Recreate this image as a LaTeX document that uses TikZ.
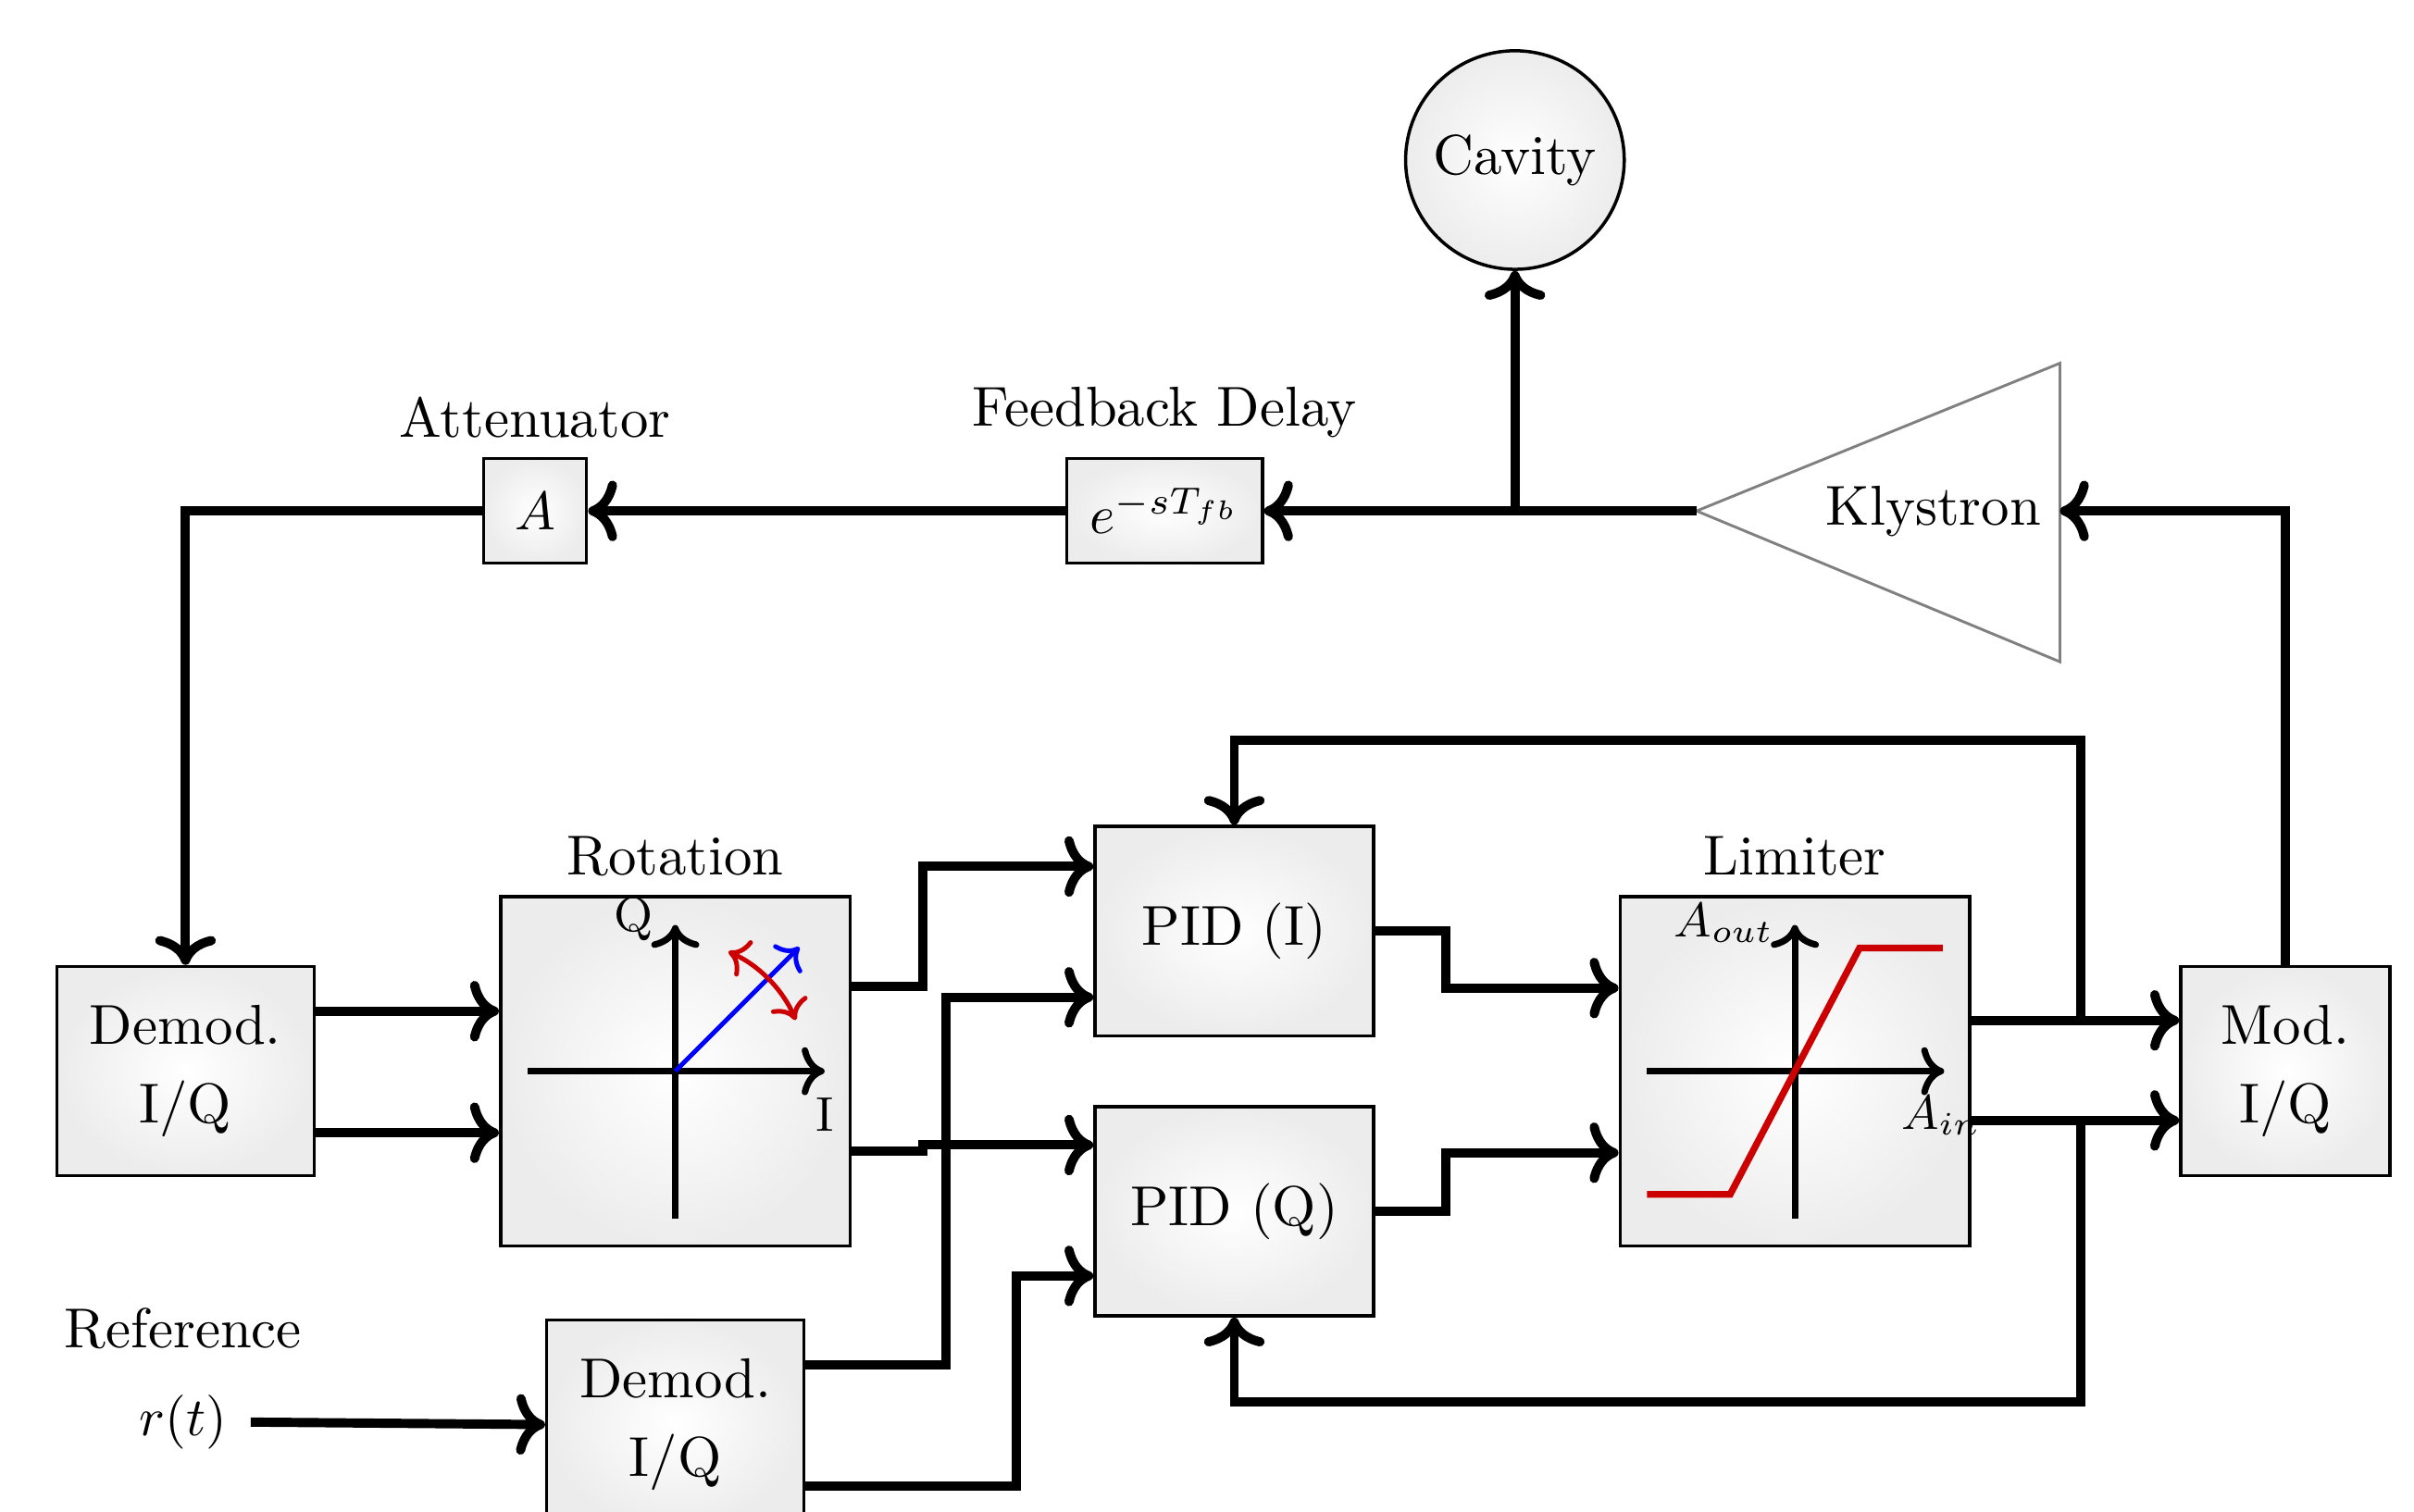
\documentclass[tikz,border=0pt]{standalone}
\usepackage{amsmath}
\usepackage{xcolor}
\usepackage{tikz}
\usetikzlibrary{arrows.meta, positioning, calc}
\definecolor{limred}{RGB}{204,0,0}
\definecolor{vecblue}{RGB}{0,0,255}

\begin{document}
\begin{tikzpicture}[
    font=\fontsize{10.4pt}{12.5pt}\selectfont,
    wire/.style={line width=1.7pt, ->},
    axis/.style={line width=1.2pt, ->},
    block/.style={draw, line width=0.6pt, inner color=white, outer color=gray!15, align=center},
    plotbox/.style={block, minimum width=2.27cm, minimum height=2.27cm},
    iqbox/.style={block, minimum width=1.67cm, minimum height=1.36cm},
    pidbox/.style={block, minimum width=1.81cm, minimum height=1.36cm},
]
    \useasboundingbox (0,0) rectangle (15.68,9.82);

    % forward path
    \node[iqbox] (demodA) at (1.205,2.86) {Demod.\\[2pt] I/Q};
    \node[plotbox, right=1.19cm of demodA, label=above:Rotation] (rot) {};
    \node[pidbox, right=1.57cm of rot, yshift=0.91cm] (pidI) {PID (I)};
    \node[pidbox, right=1.57cm of rot, yshift=-0.91cm] (pidQ) {PID (Q)};
    \node[plotbox, right=1.58cm of pidI, yshift=-0.91cm, label=above:Limiter] (lim) {};
    \node[block, minimum width=1.36cm, minimum height=1.36cm, right=1.35cm of lim] (mod) {Mod.\\[2pt] I/Q};
    \node[iqbox, below=0.46cm of rot] (demodB) {Demod.\\[2pt] I/Q};

    \node (rt) at (1.19,0.58) {$r(t)$};
    \node[above=0.05cm of rt] (reflab) {Reference};

    % RF path
    \node[block, circle, minimum size=1.42cm] (cav) at (9.84,8.78) {Cavity};
    \node[block, minimum width=1.27cm, minimum height=0.68cm, label=above:Feedback Delay] (delay) at (7.565,6.50) {$e^{-sT_{fb}}$};
    \node[block, minimum width=0.67cm, minimum height=0.68cm, label=above:Attenuator] (att) at (3.475,6.50) {$A$};
    \coordinate (kout) at (11.02,6.50);
    \node[anchor=east] (kly) at (13.38,6.50) {Klystron};
    \draw[gray, line width=0.5pt] (kout) -- (13.38,7.46) -- (13.38,5.52) -- cycle;

    % rotation plot
    \begin{scope}[shift={(rot.center)}]
        \draw[axis] (-0.96,0) -- (0.97,0);
        \draw[axis] (0,-0.96) -- (0,0.95);
        \node[font=\small] (qlab) at (-0.27,0.99) {Q};
        \node[font=\small] (ilab) at (0.97,-0.28) {I};
        \draw[line width=0.85pt, vecblue, ->] (0,0) -- (45:1.14);
        \draw[line width=0.85pt, limred, <->] (66:0.85) arc[start angle=66, end angle=23, radius=0.85];
    \end{scope}

    % limiter plot
    \begin{scope}[shift={(lim.center)}]
        \draw[axis] (-0.96,0) -- (0.97,0);
        \draw[axis] (0,-0.96) -- (0,0.95);
        \node[font=\small] (aout) at (-0.46,0.96) {$A_{out}$};
        \node[font=\small] (ain) at (0.95,-0.29) {$A_{in}$};
        \draw[line width=1.25pt, limred] (-0.96,-0.8) -- (-0.42,-0.8) -- (0.42,0.8) -- (0.96,0.8);
    \end{scope}

    % connectors
    \draw[wire] (mod.north) |- (kly.east);
    \draw[wire] (kout) -- (delay.east);
    \draw[wire] (cav.south |- kout) -- (cav.south);
    \draw[wire] (delay.west) -- (att.east);
    \draw[wire] (att.west) -| (demodA.north);

    \draw[wire] ([yshift=0.39cm]demodA.east) -- ([yshift=0.39cm]rot.west);
    \draw[wire] ([yshift=-0.40cm]demodA.east) -- ([yshift=-0.40cm]rot.west);
    \draw[wire] ([yshift=0.55cm]rot.east) -- ++(0.46,0) |- ([yshift=0.42cm]pidI.west);
    \draw[wire] ([yshift=-0.52cm]rot.east) -- ++(0.46,0) |- ([yshift=0.43cm]pidQ.west);
    \draw[wire] ([xshift=0.03cm]rt.east) -- (demodB.west);
    \draw[wire] ([yshift=0.39cm]demodB.east) -- ++(0.91,0) |- ([yshift=-0.43cm]pidI.west);
    \draw[wire] ([yshift=-0.40cm]demodB.east) -- ++(1.37,0) |- ([yshift=-0.42cm]pidQ.west);

    \draw[wire] (pidI.east) -- ++(0.46,0) |- ([yshift=0.54cm]lim.west);
    \draw[wire] (pidQ.east) -- ++(0.46,0) |- ([yshift=-0.53cm]lim.west);
    \draw[wire] ([yshift=0.33cm]lim.east) -- ([yshift=0.33cm]mod.west);
    \draw[wire] ([yshift=-0.32cm]lim.east) -- ([yshift=-0.32cm]mod.west);

    % feedback to the PIDs
    \coordinate (tapI) at ($([yshift=0.33cm]lim.east)+(0.71,0)$);
    \coordinate (tapQ) at ($([yshift=-0.32cm]lim.east)+(0.71,0)$);
    \draw[wire] (tapI) |- ([yshift=0.55cm]pidI.north) -- (pidI.north);
    \draw[wire] (tapQ) |- ([yshift=-0.55cm]pidQ.south) -- (pidQ.south);
\end{tikzpicture}
\end{document}
